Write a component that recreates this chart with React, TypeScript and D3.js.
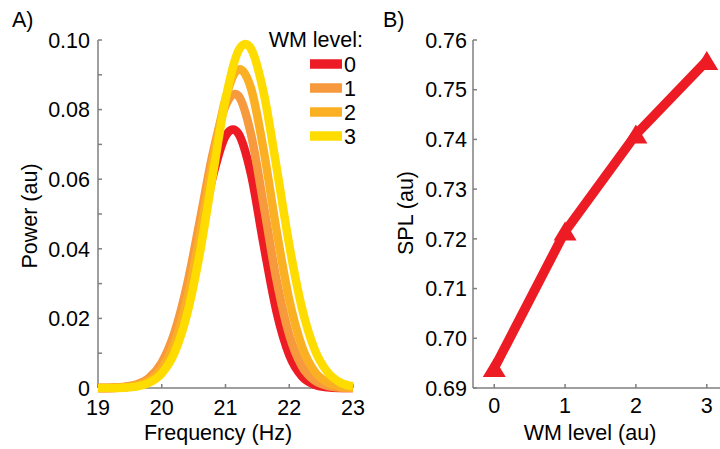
import React from "react";
import * as d3 from "d3";

// Panel A: spectral power curves per WM level
const frequencies = [19.0, 19.2, 19.4, 19.6, 19.8, 20.0, 20.2, 20.4, 20.6, 20.8, 21.0, 21.2, 21.4, 21.6, 21.8, 22.0, 22.2, 22.4, 22.6, 22.8, 23.0];
const powerLevel0 = [0, 0, 0.0002, 0.0007, 0.0023, 0.0061, 0.0137, 0.0264, 0.0434, 0.0607, 0.0724, 0.0732, 0.0615, 0.041, 0.022, 0.0095, 0.0033, 0.0009, 0.0002, 0, 0];
const powerLevel1 = [0, 0.0001, 0.0003, 0.001, 0.0029, 0.0073, 0.0159, 0.0298, 0.0483, 0.0673, 0.0811, 0.084, 0.0729, 0.0524, 0.0311, 0.0153, 0.0062, 0.0021, 0.0006, 0.0001, 0];
const powerLevel2 = [0, 0, 0.0002, 0.0007, 0.0021, 0.0056, 0.0129, 0.0256, 0.044, 0.0651, 0.0831, 0.0915, 0.0861, 0.0681, 0.0453, 0.0253, 0.0119, 0.0047, 0.0016, 0.0004, 0.0001];
const powerLevel3 = [0, 0, 0.0001, 0.0004, 0.0015, 0.0042, 0.0101, 0.0214, 0.039, 0.0612, 0.0829, 0.0968, 0.0975, 0.0847, 0.0635, 0.0411, 0.0229, 0.011, 0.0046, 0.0016, 0.0005];
const levelNames = ["0", "1", "2", "3"];
const levelColors = ["#ED1C24", "#F7993D", "#FBB024", "#FFDC00"];
const freqTicks = [19, 20, 21, 22, 23];
const powerMinorTicks = [0, 0.01, 0.02, 0.03, 0.04, 0.05, 0.06, 0.07, 0.08, 0.09, 0.1];
const powerTickLabels = ["0", "0.02", "0.04", "0.06", "0.08", "0.10"];

// Panel B: SPL against WM level
const wmLevels = [0, 1, 2, 3];
const splValues = [0.694, 0.7215, 0.741, 0.7558];
const splTicks = [0.69, 0.7, 0.71, 0.72, 0.73, 0.74, 0.75, 0.76];
const splTickLabels = ["0.69", "0.70", "0.71", "0.72", "0.73", "0.74", "0.75", "0.76"];

const FONT = "'Liberation Sans', Arial, Helvetica, sans-serif";
const FS = 21.5;
const AXIS = "#7f7f7f";

export default function App() {
  const series = [powerLevel0, powerLevel1, powerLevel2, powerLevel3];

  // Panel A scales
  const xA = d3.scaleLinear().domain([19, 23]).range([98, 353]);
  const yA = d3.scaleLinear().domain([0, 0.1]).range([388, 40]);
  const lineA = d3
    .line<number>()
    .x((_, i) => xA(frequencies[i]))
    .y((d) => yA(d))
    .curve(d3.curveCatmullRom.alpha(0));

  // Panel B scales
  const xB = d3.scaleLinear().domain([-0.3, 3.3]).range([473, 728]);
  const yB = d3.scaleLinear().domain([0.69, 0.76]).range([388, 40]);
  const lineB = d3
    .line<number>()
    .x((_, i) => xB(wmLevels[i]))
    .y((d) => yB(d));

  const tri = (cx: number, cy: number) =>
    `M${cx},${cy - 10}L${cx + 11.5},${cy + 9}L${cx - 11.5},${cy + 9}Z`;

  return (
    <svg
      width={720}
      height={449}
      style={{ position: "absolute", left: 0, top: 0, background: "#fff" }}
      fontFamily={FONT}
    >
      <rect width={720} height={449} fill="#fff" />

      {/* ---------- Panel A ---------- */}
      <text x={12} y={27} fontSize={FS} fill="#000">A)</text>

      {/* axes */}
      <line x1={xA(19)} x2={xA(19)} y1={yA(0)} y2={yA(0.1)} stroke={AXIS} strokeWidth={1.5} />
      <line x1={xA(19)} x2={xA(23)} y1={yA(0)} y2={yA(0)} stroke={AXIS} strokeWidth={1.5} />
      {powerMinorTicks.map((t) => (
        <line key={"pt" + t} x1={xA(19)} x2={xA(19) + 4} y1={yA(t)} y2={yA(t)} stroke={AXIS} strokeWidth={1.5} />
      ))}
      {freqTicks.map((t) => (
        <line key={"ft" + t} x1={xA(t)} x2={xA(t)} y1={yA(0)} y2={yA(0) - 4} stroke={AXIS} strokeWidth={1.5} />
      ))}
      {powerTickLabels.map((lab) => (
        <text key={"pl" + lab} x={90} y={yA(+lab)} dy="0.36em" textAnchor="end" fontSize={FS} fill="#000">
          {lab}
        </text>
      ))}
      {freqTicks.map((t) => (
        <text key={"fl" + t} x={xA(t)} y={415} textAnchor="middle" fontSize={FS} fill="#000">
          {t}
        </text>
      ))}
      <text x={218} y={440} textAnchor="middle" fontSize={FS} fill="#000">Frequency (Hz)</text>
      <text
        transform={`translate(37,${216}) rotate(-90)`}
        textAnchor="middle"
        fontSize={FS}
        fill="#000"
      >
        Power (au)
      </text>

      {/* curves */}
      {series.map((s, k) => (
        <path
          key={"c" + k}
          d={lineA(s) || ""}
          fill="none"
          stroke={levelColors[k]}
          strokeWidth={8.5}
          strokeLinejoin="round"
        />
      ))}

      {/* legend */}
      <text x={363} y={47} textAnchor="end" fontSize={FS} fill="#000">WM level:</text>
      {levelNames.map((name, k) => (
        <g key={"lg" + k}>
          <line x1={310} x2={342} y1={64 + k * 24} y2={64 + k * 24} stroke={levelColors[k]} strokeWidth={9.5} />
          <text x={344} y={64 + k * 24} dy="0.36em" fontSize={FS} fill="#000">{name}</text>
        </g>
      ))}

      {/* ---------- Panel B ---------- */}
      <text x={383} y={27} fontSize={FS} fill="#000">B)</text>

      <line x1={xB(-0.3)} x2={xB(-0.3)} y1={yB(0.69)} y2={yB(0.76)} stroke={AXIS} strokeWidth={1.5} />
      <line x1={xB(-0.3)} x2={xB(3.3)} y1={yB(0.69)} y2={yB(0.69)} stroke={AXIS} strokeWidth={1.5} />
      {splTicks.map((t) => (
        <line key={"st" + t} x1={xB(-0.3)} x2={xB(-0.3) + 4} y1={yB(t)} y2={yB(t)} stroke={AXIS} strokeWidth={1.5} />
      ))}
      {wmLevels.map((t) => (
        <line key={"wt" + t} x1={xB(t)} x2={xB(t)} y1={yB(0.69)} y2={yB(0.69) - 4} stroke={AXIS} strokeWidth={1.5} />
      ))}
      {splTickLabels.map((lab, i) => (
        <text key={"sl" + lab} x={467} y={yB(splTicks[i])} dy="0.36em" textAnchor="end" fontSize={FS} fill="#000">
          {lab}
        </text>
      ))}
      {wmLevels.map((t) => (
        <text key={"wl" + t} x={xB(t)} y={413} textAnchor="middle" fontSize={FS} fill="#000">
          {t}
        </text>
      ))}
      <text x={590} y={440} textAnchor="middle" fontSize={FS} fill="#000">WM level (au)</text>
      <text
        transform={`translate(413,${213}) rotate(-90)`}
        textAnchor="middle"
        fontSize={FS}
        fill="#000"
      >
        SPL (au)
      </text>

      <path d={lineB(splValues) || ""} fill="none" stroke="#ED1C24" strokeWidth={9.5} strokeLinejoin="miter" />
      {splValues.map((v, i) => (
        <path key={"m" + i} d={tri(xB(wmLevels[i]), yB(v))} fill="#ED1C24" />
      ))}
    </svg>
  );
}
